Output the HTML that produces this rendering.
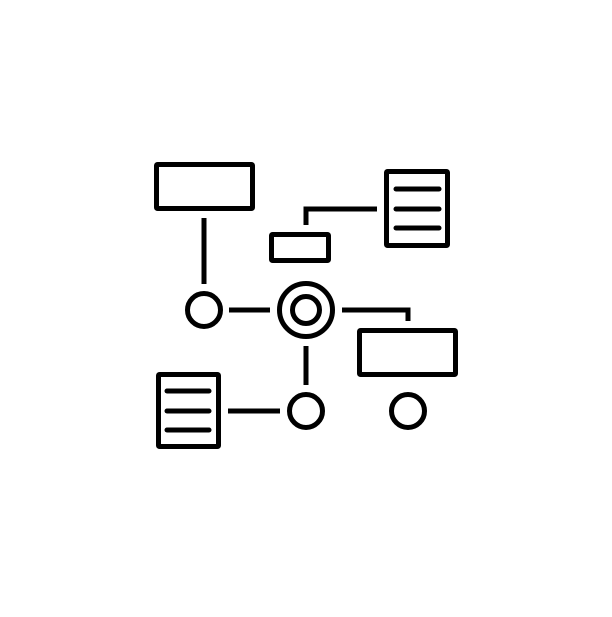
<!DOCTYPE html>
<html><head><style>html,body{margin:0;padding:0;background:#fff}</style></head><body>
<svg width="612" height="612" viewBox="0 0 612 612" xmlns="http://www.w3.org/2000/svg">
<g fill="none" stroke="#000" stroke-width="5">
<rect x="156.5" y="164.5" width="96" height="44" rx="1"/>
<line x1="204" y1="218" x2="204" y2="284"/>
<circle cx="204" cy="310" r="16.5"/>
<line x1="229" y1="310" x2="270" y2="310"/>
<circle cx="306" cy="310" r="26.5"/>
<circle cx="306" cy="310" r="13.5"/>
<polyline points="342,310 408,310 408,321"/>
<rect x="359.5" y="330.5" width="96" height="44" rx="1"/>
<line x1="306" y1="346" x2="306" y2="385"/>
<circle cx="306" cy="411" r="16.5"/>
<line x1="228" y1="411" x2="280" y2="411"/>
<rect x="158.5" y="374.5" width="60" height="72" rx="1"/>
<circle cx="408" cy="411" r="16.5"/>
<rect x="271.5" y="234.5" width="57" height="26" rx="1"/>
<polyline points="306,225 306,209 377,209"/>
<rect x="386.5" y="171.5" width="61" height="74" rx="1"/>
</g>
<g stroke="#000" stroke-width="5" stroke-linecap="round">
<line x1="167" y1="391" x2="209" y2="391"/>
<line x1="167" y1="411" x2="209" y2="411"/>
<line x1="167" y1="430" x2="209" y2="430"/>
<line x1="396" y1="189" x2="439" y2="189"/>
<line x1="396" y1="209" x2="439" y2="209"/>
<line x1="396" y1="228" x2="439" y2="228"/>
</g>
</svg>
</body></html>
